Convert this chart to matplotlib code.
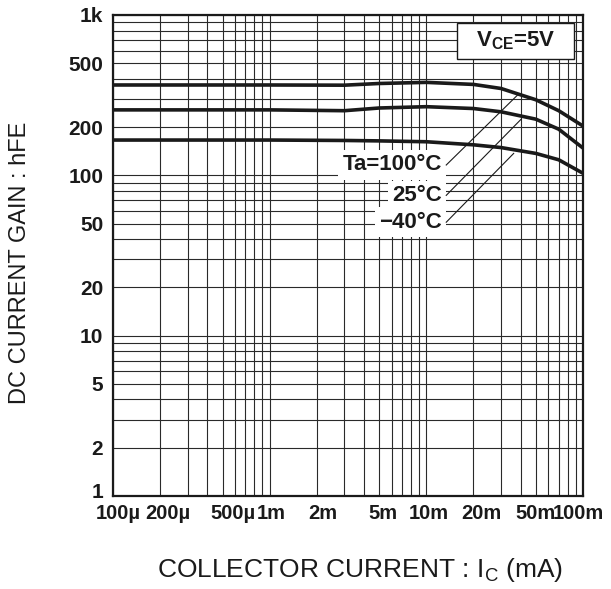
import numpy as np
import matplotlib
matplotlib.use('Agg')
import matplotlib.pyplot as plt
from matplotlib.patches import Rectangle
from matplotlib.transforms import ScaledTranslation

plt.rcParams['font.family'] = ['Liberation Sans', 'DejaVu Sans']
plt.rcParams['mathtext.fontset'] = 'custom'
plt.rcParams['mathtext.rm'] = 'Liberation Sans'
plt.rcParams['mathtext.bf'] = 'Liberation Sans:bold'

# collector current (A) and dc current gain
ic = [1e-4, 1e-3, 3e-3, 5e-3, 1e-2, 2e-2, 3e-2, 5e-2, 7e-2, 1e-1]
hfe_100 = [366, 366, 365, 374, 380, 369, 348, 296, 253, 203]
hfe_25 = [256, 256, 253, 263, 268, 261, 249, 224, 194, 148]
hfe_m40 = [166, 166, 165, 164, 162, 155, 149, 137, 125, 103]

curve_labels = ['Ta=100°C', '25°C', '\u221240°C']
label_y = [116, 75, 51]
leader_end_x = [0.039, 0.0403, 0.0361]
leader_end_y = [323, 224, 137]

x_ticks = [1e-4, 2e-4, 5e-4, 1e-3, 2e-3, 5e-3, 1e-2, 2e-2, 5e-2, 1e-1]
x_ticklabels = ['100\u00b5', '200\u00b5', '500\u00b5', '1m', '2m', '5m', '10m', '20m', '50m', '100m']
# small sideways nudges of the x labels (pixels), as laid out on the sheet
x_label_shift = [5, 8, 10, 2, 6, 4, 2, 8, 0, -5]
y_ticks = [1, 2, 5, 10, 20, 50, 100, 200, 500, 1000]
y_ticklabels = ['1', '2', '5', '10', '20', '50', '100', '200', '500', '1k']

fig = plt.figure(figsize=(6.11, 5.89), dpi=100)
ax = fig.add_axes([113 / 611, 93 / 589, 470 / 611, 481 / 589])

ax.set_xscale('log')
ax.set_yscale('log')
ax.set_xlim(1e-4, 1e-1)
ax.set_ylim(1, 1000)

# grid
ax.grid(True, which='both', color='#2a2a2a', linewidth=0.8)
ax.set_axisbelow(True)

for h in [hfe_100, hfe_25, hfe_m40]:
    ax.plot(ic, h, color='#1a1a1a', linewidth=2.6, solid_capstyle='butt', zorder=3)

# labels with leaders
label_x = 0.0126
start_x = 0.0134
for lab, ly, ex, ey in zip(curve_labels, label_y, leader_end_x, leader_end_y):
    ax.text(label_x, ly, lab, ha='right', va='center', fontsize=16, fontweight='bold',
            color='#1a1a1a', zorder=4,
            bbox=dict(facecolor='white', edgecolor='none', pad=3))
    ax.plot([start_x, ex], [ly, ey], color='#1a1a1a', linewidth=0.8, zorder=4)

# V_CE box
ax.add_patch(Rectangle((0.732, 0.9085), 0.249, 0.0745, transform=ax.transAxes,
                       facecolor='white', edgecolor='#1a1a1a', linewidth=1.0, zorder=5))
ax.text(0.856, 0.946, r'V$_{\mathbf{CE}}$=5V', transform=ax.transAxes, ha='center', va='center',
        fontsize=16, fontweight='bold', color='#1a1a1a', zorder=6)

ax.set_xticks(x_ticks)
ax.set_xticklabels(x_ticklabels, fontsize=14.5, fontweight='bold')
ax.set_yticks(y_ticks)
ax.set_yticklabels(y_ticklabels, fontsize=15, fontweight='bold')
ax.xaxis.set_minor_formatter(matplotlib.ticker.NullFormatter())
ax.yaxis.set_minor_formatter(matplotlib.ticker.NullFormatter())
ax.tick_params(which='both', length=0, colors='#1a1a1a')
ax.tick_params(axis='x', pad=6)
ax.tick_params(axis='y', pad=7)

for lbl, dx in zip(ax.get_xticklabels(), x_label_shift):
    lbl.set_transform(lbl.get_transform() + ScaledTranslation(dx / 100, 0, fig.dpi_scale_trans))

# the "1" sits a little above the bottom line
y1 = ax.get_yticklabels()[0]
y1.set_transform(y1.get_transform() + ScaledTranslation(0, 0.05, fig.dpi_scale_trans))

for s in ax.spines.values():
    s.set_linewidth(1.6)
    s.set_color('#1a1a1a')

ax.set_xlabel(r'COLLECTOR CURRENT : I$_\mathrm{C}$ (mA)', fontsize=19, color='#1a1a1a')
ax.xaxis.set_label_coords(0.526, -0.154)
ax.xaxis.label.set_verticalalignment('center')
ax.set_ylabel('DC CURRENT GAIN : hFE', fontsize=17, color='#1a1a1a')
ax.yaxis.set_label_coords(-0.174, 0.485)

fig.savefig('out.png', dpi=100)
